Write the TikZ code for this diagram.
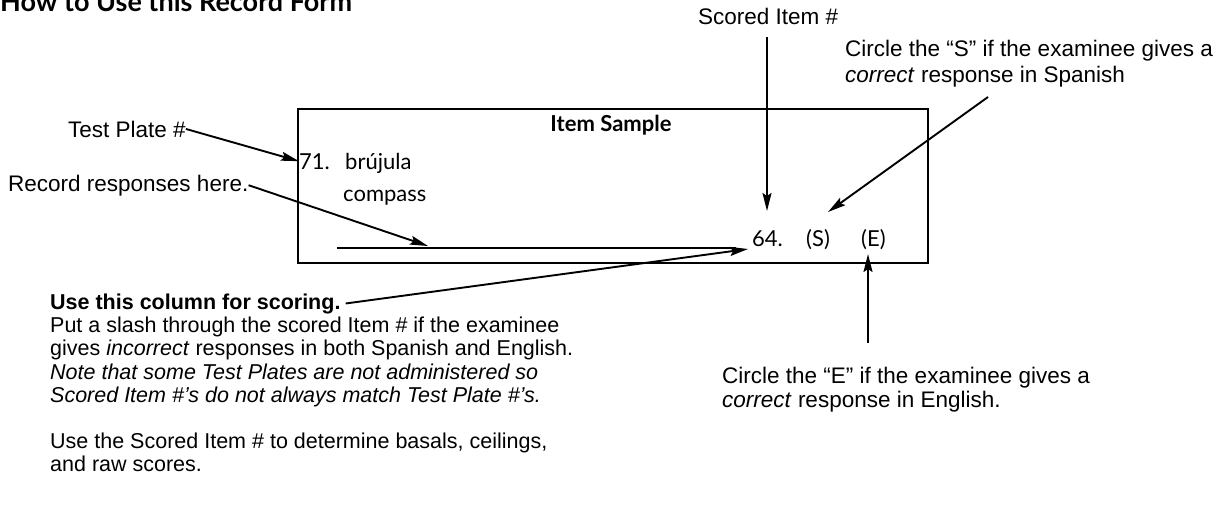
\documentclass[tikz,border=0pt]{standalone}
\usepackage{fontspec}
\setmainfont{Liberation Sans}
\newfontfamily\formfont{Lato}
\usetikzlibrary{arrows.meta}

\begin{document}
\begin{tikzpicture}[x=1pt,y=-1pt,
  heading/.style={font=\formfont\bfseries\fontsize{27}{30}\selectfont, inner sep=0pt},
  lbl/.style={font=\fontsize{22.5}{26}\selectfont, inner sep=0pt, align=left},
  notes/.style={font=\fontsize{21.5}{23.2}\selectfont, inner sep=0pt, align=left},
  form/.style={font=\formfont\fontsize{22}{26}\selectfont, inner sep=0pt},
  formbold/.style={font=\formfont\bfseries\fontsize{22}{26}\selectfont, inner sep=0pt},
  samplebox/.style={draw, line width=2.3pt, inner sep=0pt},
  answerline/.style={line width=1.3pt},
  pointer/.style={line width=1.9pt, -{Stealth[length=18pt,width=9pt,inset=3pt]}}
]
\useasboundingbox (0,0) rectangle (1228,514);

% title, partly above the top edge
\node[heading, anchor=base west] (title) at (0,12) {How to Use this Record Form};

% sample item box
\node[samplebox, anchor=north west, minimum width=630pt, minimum height=154pt] (sample) at (297,108) {};
\node[formbold, anchor=base] (head) at (611,131) {Item Sample};
\node[form, anchor=base west] (n71) at (299,169) {71.};
\node[form, anchor=base west] (es) at (345,169) {brújula};
\node[form, anchor=base west] (en) at (343,201) {compass};
\coordinate (lineL) at (337,248);
\coordinate (lineR) at (736,248);
\draw[answerline] (lineL) -- (lineR);
\node[form, anchor=base west] (num) at (752,246) {64.};
\node[form, anchor=base west] (sp) at (806,246) {(S)};
\node[form, anchor=base west] (eng) at (861,246) {(E)};

% labels around the box
\node[lbl, anchor=base west] (tp) at (68,137) {Test Plate \#};
\draw[pointer] (tp.east) -- (n71.west);

\node[lbl, anchor=base west] (rec) at (8,191) {Record responses here.};
\coordinate (recHit) at (428,246);
\draw[pointer] (rec.east) -- (recHit);

\node[lbl, anchor=base west] (scored) at (698,24) {Scored Item \#};
\coordinate (scoredTop) at (767,37);
\coordinate (scoredTip) at (767,211);
\draw[pointer] (scoredTop) -- (scoredTip);

\node[lbl, anchor=north west] (cs) at (845,40) {Circle the “S” if the examinee gives a\\\textit{correct} response in Spanish};
\coordinate (csFrom) at (988,97);
\coordinate (csTip) at (828,212);
\draw[pointer] (csFrom) -- (csTip);

\node[lbl, anchor=north west, font=\fontsize{22.5}{23.5}\selectfont] (ce) at (722,367) {Circle the “E” if the examinee gives a\\\textit{correct} response in English.};
\coordinate (ceFrom) at (868,343);
\coordinate (ceTip) at (868,254);
\draw[pointer] (ceFrom) -- (ceTip);

% scoring notes
\node[notes, font=\bfseries\fontsize{21.5}{23.2}\selectfont, anchor=base west] (col) at (50,309) {Use this column for scoring.};
\coordinate (colTip) at (748,249);
\draw[pointer] ([xshift=5pt]col.east) -- (colTip);

\node[notes, anchor=north west] (rules) at (50,317) {Put a slash through the scored Item \# if the examinee\\
gives \textit{incorrect} responses in both Spanish and English.\\
\textit{Note that some Test Plates are not administered so}\\
\textit{Scored Item \#’s do not always match Test Plate \#’s.}};

\node[notes, anchor=north west] (usage) at (50,433) {Use the Scored Item \# to determine basals, ceilings,\\
and raw scores.};
\end{tikzpicture}
\end{document}
